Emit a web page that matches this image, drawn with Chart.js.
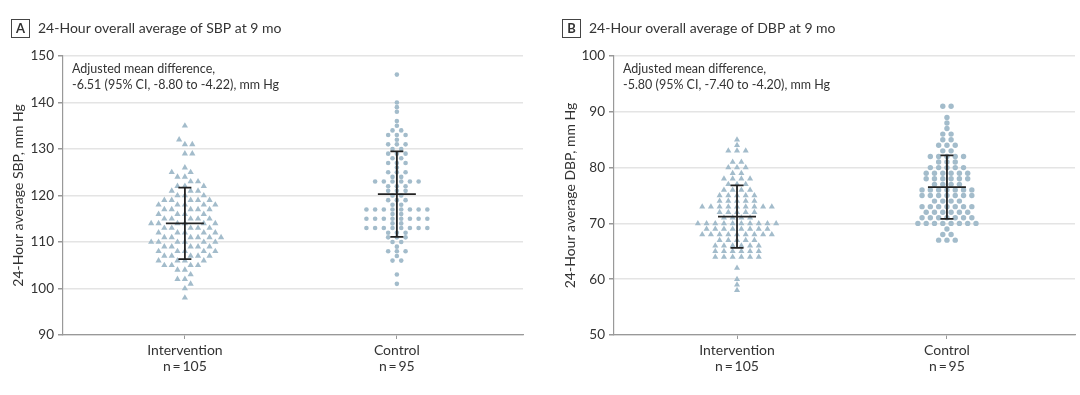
<!DOCTYPE html>
<html>
<head>
<meta charset="utf-8">
<script src="https://cdn.jsdelivr.net/npm/chart.js@4.4.1/dist/chart.umd.min.js"></script>
<style>
  body { margin: 0; background: #fff; width: 1080px; height: 395px; overflow: hidden; }
  .panel { position: absolute; top: 0; width: 540px; height: 395px; }
</style>
</head>
<body>
<div class="panel" style="left:0"><canvas id="chartA" width="540" height="395"></canvas></div>
<div class="panel" style="left:540px"><canvas id="chartB" width="540" height="395"></canvas></div>
<script>
var groupLabels = [["Intervention", "n\u2009=\u2009105"], ["Control", "n\u2009=\u200995"]]

var sbpIntervention = [
  98, 100, 101, 102, 102, 103, 104, 104, 105, 105, 105, 105,
  106, 106, 106, 106, 107, 107, 107, 107, 107, 108, 108, 108, 108, 108,
  109, 109, 109, 109, 109, 110, 110, 110, 110, 110, 110, 111, 111, 111, 111, 111, 111,
  112, 112, 112, 112, 112, 113, 113, 113, 113, 113, 114, 114, 114, 114, 114, 114,
  115, 115, 115, 115, 115, 116, 116, 116, 116, 117, 117, 117, 117, 117,
  118, 118, 118, 118, 118, 119, 119, 119, 119, 119, 120, 120, 120, 121, 121, 121,
  122, 122, 122, 123, 123, 124, 124, 125, 125, 126, 129, 129, 131, 131, 132, 135]
var sbpControl = [
  101, 103, 106, 106, 107, 108, 108, 108, 109, 110, 110,
  111, 111, 111, 112, 112, 112, 113, 113, 113, 113, 113, 113, 113, 113,
  114, 114, 115, 115, 115, 115, 115, 115, 115, 115, 116, 116,
  117, 117, 117, 117, 117, 117, 117, 117, 118, 118, 119, 119, 119,
  120, 120, 121, 121, 121, 122, 122, 122, 123, 123, 123, 123, 123, 123,
  124, 124, 125, 125, 125, 126, 127, 127, 127, 128, 128, 129, 129, 129,
  130, 130, 131, 131, 131, 132, 133, 133, 133, 134, 134, 135, 136, 138, 139, 140, 146]

// 24-hour DBP, mm Hg
var dbpIntervention = [
  58, 59, 60, 62, 64, 64, 64, 64, 64, 64,
  65, 65, 65, 65, 65, 65, 66, 66, 66, 66, 66, 66,
  67, 67, 67, 67, 67, 68, 68, 68, 68, 68, 68, 68, 68, 68,
  69, 69, 69, 69, 69, 69, 69, 69, 70, 70, 70, 70, 70, 70, 70, 70, 70, 70,
  71, 71, 71, 71, 72, 72, 72, 72, 72, 73, 73, 73, 73, 73, 73, 73, 73, 73,
  74, 74, 74, 74, 74, 75, 75, 75, 75, 75, 76, 76, 76, 76, 77, 77, 77,
  78, 78, 78, 78, 79, 79, 80, 80, 80, 81, 81, 83, 83, 83, 84, 85]
var dbpControl = [
  67, 67, 67, 68, 68, 69, 70, 70, 70, 70, 70, 70, 70, 70,
  71, 71, 71, 71, 71, 71, 71, 72, 72, 72, 72, 72, 72,
  73, 73, 73, 73, 73, 73, 73, 74, 74, 74, 74,
  75, 75, 75, 75, 75, 75, 75, 76, 76, 76, 76, 76, 76, 76,
  77, 77, 77, 77, 78, 78, 78, 78, 78, 78, 79, 79, 79, 79, 79, 79,
  80, 80, 80, 80, 80, 81, 81, 81, 82, 82, 82, 82, 82,
  83, 83, 84, 84, 84, 85, 85, 86, 86, 87, 88, 89, 91, 91]

// mean and SD whiskers [intervention, control]
var sbpMean = [114.0, 120.3]
var sbpSD = [7.7, 9.2]
var dbpMean = [71.2, 76.5]
var dbpSD = [5.6, 5.7]

var sbpTicks = [90, 100, 110, 120, 130, 140, 150]
var dbpTicks = [50, 60, 70, 80, 90, 100]

var dotColor = "#a3bccb"
var textColor = "#333"
var FONT = "Lato, 'Noto Sans', sans-serif"


// beeswarm: each dot goes as close to the centre line as it can without touching
function swarm(values, center, gap, yScale, unit) {
  var placed = []
  var out = []
  var order = values.slice().sort(function(a, b) { return a - b })
  order.forEach(function(v) {
    var y = yScale.getPixelForValue(v)
    var cands = [0]
    placed.forEach(function(p) {
      var dy = Math.abs(p.y - y)
      if (dy < gap) {
        var dx = Math.sqrt(gap * gap - dy * dy)
        cands.push(p.x + dx, p.x - dx)
      }
    })
    cands.sort(function(a, b) { return Math.abs(a) - Math.abs(b) })
    var best = 0
    for (var i = 0; i < cands.length; i++) {
      var c = cands[i]
      var ok = placed.every(function(p) {
        return (p.x - c) * (p.x - c) + (p.y - y) * (p.y - y) >= gap * gap - 0.01
      })
      if (ok) { best = c; break }
    }
    placed.push({ x: best, y: y })
    out.push({ x: center + best / unit, y: v })
  })
  return out
}

// dot plot rows: equal values side by side, centred on the group
function rowLayout(values, center, gap, yScale, unit) {
  var byValue = {}
  values.forEach(function(v) {
    if (!byValue[v]) byValue[v] = 0
    byValue[v]++
  })
  var out = []
  Object.keys(byValue).forEach(function(key) {
    var n = byValue[key]
    for (var i = 0; i < n; i++) {
      out.push({ x: center + (i - (n - 1) / 2) * gap / unit, y: Number(key) })
    }
  })
  return out
}


var panelDecor = {
  id: "panelDecor",
  afterDatasetsDraw: function(chart, args, opts) {
    var ctx = chart.ctx
    var xs = chart.scales.x
    var ys = chart.scales.y
    ctx.save()
    ctx.strokeStyle = "#222"
    ctx.lineWidth = 1.8
    for (var k = 0; k < 2; k++) {
      var x = xs.getPixelForValue(k)
      var yTop = ys.getPixelForValue(opts.mean[k] + opts.sd[k])
      var yBot = ys.getPixelForValue(opts.mean[k] - opts.sd[k])
      var yMid = ys.getPixelForValue(opts.mean[k])
      ctx.beginPath()
      ctx.moveTo(x, yTop); ctx.lineTo(x, yBot)
      ctx.moveTo(x - 6.5, yTop); ctx.lineTo(x + 6.5, yTop)
      ctx.moveTo(x - 6.5, yBot); ctx.lineTo(x + 6.5, yBot)
      ctx.moveTo(x - 19, yMid); ctx.lineTo(x + 19, yMid)
      ctx.stroke()
    }
    ctx.restore()
  },
  afterDraw: function(chart, args, opts) {
    var ctx = chart.ctx
    var boxX = opts.letter == "A" ? 11.5 : 22.5
    ctx.save()
    // lettered box + panel title
    ctx.strokeStyle = "#444"
    ctx.lineWidth = 1
    ctx.strokeRect(boxX, 19.5, 18, 18)
    ctx.fillStyle = textColor
    ctx.textBaseline = "middle"
    ctx.textAlign = "center"
    ctx.font = "bold 13px " + FONT
    ctx.fillText(opts.letter, boxX + 9, 29)
    ctx.textAlign = "left"
    ctx.font = "14px " + FONT
    ctx.fillText(opts.title, boxX + 26.5, 28.5)
    // adjusted difference note
    ctx.font = "12.5px " + FONT
    ctx.fillText(opts.note[0], chart.chartArea.left + 9, 69)
    ctx.fillText(opts.note[1], chart.chartArea.left + 9, 85)
    ctx.restore()
  }
}


function makePanel(id, p) {
  var ctx = document.getElementById(id)
  var chart = new Chart(ctx, {
    type: "scatter",
    data: {
      datasets: [0, 1].map(function(k) {
        return {
          data: p.values[k].map(function(v) { return { x: k, y: v } }),
          pointStyle: k == 0 ? "triangle" : "circle",
          pointRadius: p.radius[k],
          pointHoverRadius: p.radius[k],
          backgroundColor: dotColor,
          borderWidth: 0
        }
      })
    },
    options: {
      responsive: false,
      animation: false,
      events: [],
      layout: { padding: { top: 56, right: p.padRight, bottom: 0, left: 0 } },
      plugins: {
        legend: { display: false },
        tooltip: { enabled: false },
        panelDecor: { letter: p.letter, title: p.title, note: p.note, mean: p.mean, sd: p.sd }
      },
      scales: {
        x: {
          type: "linear",
          min: p.xMin,
          max: p.xMax,
          afterBuildTicks: function(s) { s.ticks = [{ value: 0 }, { value: 1 }] },
          afterFit: function(s) { s.height = 60 },
          grid: { drawOnChartArea: false, tickLength: 4, color: "#999", tickColor: "#999" },
          border: { color: "#999", width: 1.2 },
          ticks: {
            padding: 3,
            color: textColor,
            font: { family: FONT, size: 14, lineHeight: 1.15 },
            callback: function(v) { return groupLabels[v] }
          }
        },
        y: {
          min: p.ticks[0],
          max: p.ticks[p.ticks.length - 1],
          afterBuildTicks: function(s) { s.ticks = p.ticks.map(function(v) { return { value: v } }) },
          afterFit: function(s) { s.width = p.axisLeft },
          grid: { color: "#e4e4e4", lineWidth: 1.5, tickLength: 5, tickColor: "#999" },
          border: { color: "#999", width: 1.2 },
          ticks: { padding: 4, color: textColor, font: { family: FONT, size: 13.5 } },
          title: {
            display: true,
            text: p.yTitle,
            color: textColor,
            font: { family: FONT, size: 14 },
            padding: { top: p.yTitlePad, bottom: 0 }
          }
        }
      }
    },
    plugins: [panelDecor]
  })

  // lay the dots out once the scales exist
  var unit = chart.scales.x.getPixelForValue(1) - chart.scales.x.getPixelForValue(0)
  for (var k = 0; k < 2; k++) {
    chart.data.datasets[k].data = p.layout[k](p.values[k], k, p.gap[k], chart.scales.y, unit)
  }
  chart.update("none")
  return chart
}


function main() {
  makePanel("chartA", {
    letter: "A",
    title: "24-Hour overall average of SBP at 9 mo",
    note: ["Adjusted mean difference,", "-6.51 (95% CI, -8.80 to -4.22), mm Hg"],
    yTitle: "24-Hour average SBP, mm Hg",
    yTitlePad: 10,
    ticks: sbpTicks,
    values: [sbpIntervention, sbpControl],
    mean: sbpMean,
    sd: sbpSD,
    axisLeft: 63,
    padRight: 17,
    xMin: -0.575, xMax: 1.595,
    radius: [3.6, 2.3],
    layout: [swarm, rowLayout],
    gap: [7.4, 8.7]
  })
  makePanel("chartB", {
    letter: "B",
    title: "24-Hour overall average of DBP at 9 mo",
    note: ["Adjusted mean difference,", "-5.80 (95% CI, -7.40 to -4.20), mm Hg"],
    yTitle: "24-Hour average DBP, mm Hg",
    yTitlePad: 22,
    ticks: dbpTicks,
    values: [dbpIntervention, dbpControl],
    mean: dbpMean,
    sd: dbpSD,
    axisLeft: 74,
    padRight: 5,
    xMin: -0.586, xMax: 1.61,
    radius: [3.5, 2.7],
    layout: [rowLayout, rowLayout],
    gap: [8.7, 8.3]
  })
}

main()
</script>
</body>
</html>
